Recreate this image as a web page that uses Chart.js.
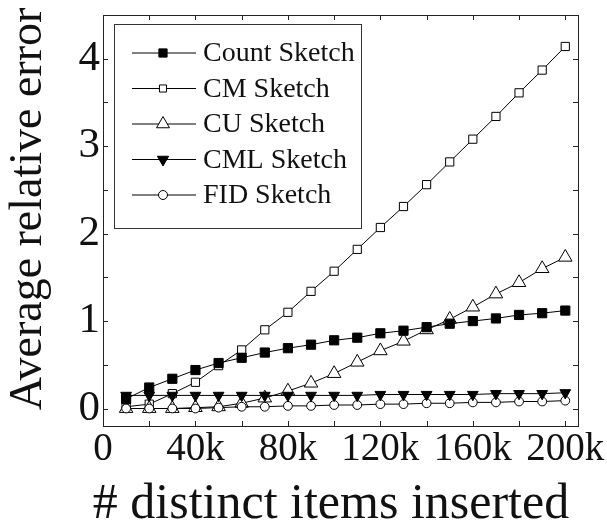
<!DOCTYPE html>
<html lang="en">
<head>
<meta charset="UTF-8">
<title>Average relative error vs distinct items</title>
<script src="https://cdn.jsdelivr.net/npm/chart.js"></script>
<style>
  body { margin: 0; background: #fff; }
  #errChart { display: block; }
</style>
</head>
<body>
<canvas id="errChart" width="607" height="524"></canvas>
<script>
// values
const itemsInserted = [10000, 20000, 30000, 40000, 50000, 60000, 70000, 80000, 90000, 100000,
                       110000, 120000, 130000, 140000, 150000, 160000, 170000, 180000, 190000, 200000];
const countSketch = [0.11, 0.24, 0.34, 0.44, 0.52, 0.58, 0.64, 0.69, 0.73, 0.78,
                     0.81, 0.86, 0.89, 0.93, 0.97, 1.00, 1.03, 1.07, 1.09, 1.12];
const cmSketch    = [0.02, 0.05, 0.17, 0.30, 0.49, 0.67, 0.90, 1.10, 1.34, 1.57,
                     1.82, 2.07, 2.31, 2.56, 2.82, 3.08, 3.34, 3.61, 3.87, 4.14];
const cuSketch    = [0.00, 0.00, 0.00, 0.01, 0.02, 0.06, 0.12, 0.20, 0.29, 0.40,
                     0.53, 0.66, 0.77, 0.90, 1.02, 1.16, 1.31, 1.44, 1.60, 1.73];
const cmlSketch   = [0.15, 0.15, 0.15, 0.15, 0.15, 0.15, 0.15, 0.15, 0.15, 0.15,
                     0.15, 0.16, 0.16, 0.16, 0.16, 0.16, 0.17, 0.17, 0.17, 0.18];
const fidSketch   = [0.00, 0.00, 0.00, 0.00, 0.01, 0.02, 0.02, 0.03, 0.03, 0.04,
                     0.04, 0.05, 0.05, 0.06, 0.06, 0.07, 0.07, 0.08, 0.08, 0.09];
const seriesNames = ['Count Sketch', 'CM Sketch', 'CU Sketch', 'CML Sketch', 'FID Sketch'];
const xTickValues = [0, 20000, 40000, 60000, 80000, 100000, 120000, 140000, 160000, 180000, 200000];
const yTickValues = [0, 0.5, 1, 1.5, 2, 2.5, 3, 3.5, 4];
const xTitle = '# distinct items inserted';
const yTitle = 'Average relative error';

const SERIF = "'Liberation Serif', 'Times New Roman', serif";

function toPoints(vals) {
  return itemsInserted.map((x, i) => ({ x: x, y: vals[i] }));
}

// marker look per series: [pointStyle, rotation, radius, fill, legendRadius]
const markers = [
  ['rect', 0, 6.5, '#000', 5.8],
  ['rect', 0, 5.8, '#fff', 5.0],
  ['triangle', 0, 7.8, '#fff', 7.5],
  ['triangle', 180, 6.2, '#000', 6.5],
  ['circle', 0, 4.4, '#fff', 4.5]
];
const allSeries = [countSketch, cmSketch, cuSketch, cmlSketch, fidSketch];

const datasets = allSeries.map((vals, i) => ({
  label: seriesNames[i],
  data: toPoints(vals),
  borderColor: '#000',
  borderWidth: 1,
  pointStyle: markers[i][0],
  pointRotation: markers[i][1],
  pointRadius: markers[i][2],
  pointHoverRadius: markers[i][2],
  pointBackgroundColor: markers[i][3],
  pointBorderColor: '#000',
  pointBorderWidth: 1,
  fill: false,
  tension: 0,
  clip: false,
  order: i === 0 ? 0 : (i === 3 ? 1 : 5 - i)
}));

// frame with inward ticks on all four sides, plus the axis titles
const frameTicks = {
  id: 'frameTicks',
  beforeDatasetsDraw(chart) {
    const { ctx, chartArea: a, scales } = chart;
    ctx.save();
    ctx.strokeStyle = '#222';
    ctx.lineWidth = 1;
    ctx.beginPath();
    scales.x.ticks.forEach(t => {
      const px = Math.round(scales.x.getPixelForValue(t.value)) + 0.5;
      ctx.moveTo(px, a.bottom); ctx.lineTo(px, a.bottom - 5);
      ctx.moveTo(px, a.top); ctx.lineTo(px, a.top + 5);
    });
    scales.y.ticks.forEach(t => {
      const py = Math.round(scales.y.getPixelForValue(t.value)) + 0.5;
      ctx.moveTo(a.left, py); ctx.lineTo(a.left + 5, py);
      ctx.moveTo(a.right, py); ctx.lineTo(a.right - 5, py);
    });
    ctx.stroke();
    ctx.strokeRect(Math.round(a.left) + 0.5, Math.round(a.top) + 0.5,
                   Math.round(a.right - a.left), Math.round(a.bottom - a.top));

    ctx.fillStyle = '#111';
    ctx.textAlign = 'center';
    ctx.textBaseline = 'alphabetic';
    ctx.font = '50px ' + SERIF;
    ctx.fillText(xTitle, a.left + 228, 518);
    ctx.translate(41, a.top + 194);
    ctx.rotate(-Math.PI / 2);
    ctx.font = '46px ' + SERIF;
    ctx.fillText(yTitle, 0, 0);
    ctx.restore();
  }
};

// boxed legend with line + marker like the original
const boxLegend = {
  id: 'boxLegend',
  afterDraw(chart) {
    const ctx = chart.ctx;
    const a = chart.chartArea;
    const bx = a.left + 11, by = a.top + 9, bw = 247, bh = 204;
    ctx.save();
    ctx.fillStyle = '#fff';
    ctx.fillRect(bx, by, bw, bh);
    ctx.strokeStyle = '#333';
    ctx.lineWidth = 1;
    ctx.strokeRect(bx + 0.5, by + 0.5, bw, bh);
    ctx.font = '28px ' + SERIF;
    ctx.textBaseline = 'middle';
    chart.data.datasets.forEach((ds, i) => {
      const ly = by + 29 + i * 35.5;
      ctx.strokeStyle = '#000';
      ctx.beginPath();
      ctx.moveTo(bx + 18, ly);
      ctx.lineTo(bx + 82, ly);
      ctx.stroke();
      ctx.fillStyle = markers[i][3];
      ctx.strokeStyle = '#000';
      Chart.helpers.drawPoint(ctx, {
        pointStyle: markers[i][0],
        rotation: markers[i][1],
        radius: markers[i][4],
        borderWidth: 1
      }, bx + 49, ly);
      ctx.fillStyle = '#111';
      ctx.fillText(ds.label, bx + 89, ly + 1);
    });
    ctx.restore();
  }
};

new Chart(document.getElementById('errChart'), {
  type: 'line',
  data: { datasets: datasets },
  options: {
    responsive: false,
    animation: false,
    events: [],
    layout: { padding: { top: 15, right: 29, left: 0, bottom: 0 } },
    plugins: { legend: { display: false }, tooltip: { enabled: false } },
    scales: {
      x: {
        type: 'linear',
        min: 0,
        max: 205500,
        bounds: 'data',
        afterBuildTicks: s => { s.ticks = xTickValues.map(v => ({ value: v })); },
        afterFit: s => { s.height = 98; s.paddingLeft = 0; s.paddingRight = 0; },
        grid: { display: false, drawTicks: false },
        border: { display: false },
        ticks: {
          autoSkip: false,
          maxRotation: 0,
          padding: 0,
          color: '#111',
          font: { family: SERIF, size: 39 },
          callback: v => (v % 40000 === 0 ? (v === 0 ? '0' : (v / 1000) + 'k') : '')
        }
      },
      y: {
        min: -0.2,
        max: 4.5,
        bounds: 'data',
        afterBuildTicks: s => { s.ticks = yTickValues.map(v => ({ value: v })); },
        afterFit: s => { s.width = 103; s.paddingTop = 0; s.paddingBottom = 0; },
        grid: { display: false, drawTicks: false },
        border: { display: false },
        ticks: {
          autoSkip: false,
          padding: 3,
          color: '#111',
          font: { family: SERIF, size: 43 },
          callback: v => (Number.isInteger(v) ? String(v) : '')
        }
      }
    }
  },
  plugins: [frameTicks, boxLegend]
});
</script>
</body>
</html>
